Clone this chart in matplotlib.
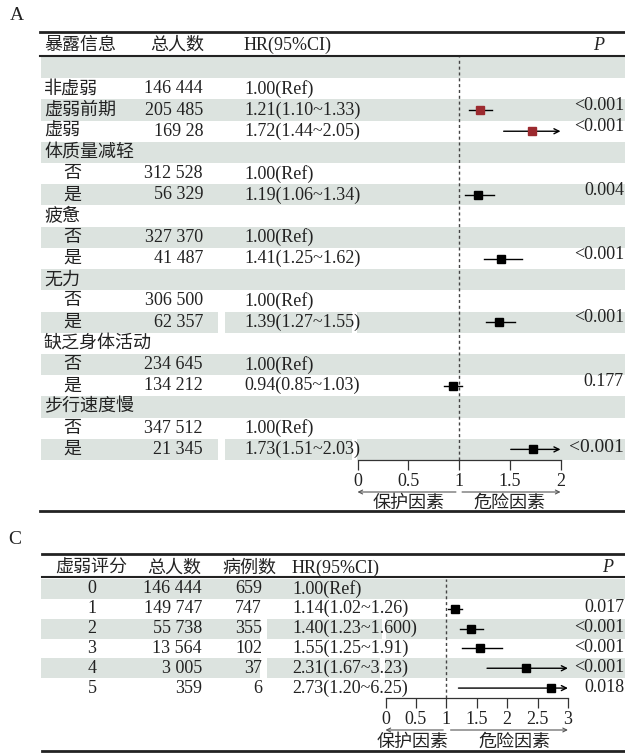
import numpy as np
import matplotlib.pyplot as plt
import matplotlib.transforms as mtransforms
from matplotlib.lines import Line2D

plt.rcParams['font.family'] = ['Liberation Serif', 'Noto Sans CJK SC']
plt.rcParams['font.size'] = 13
plt.rcParams['font.weight'] = 'light'

W, H = 625, 755
nan = np.nan
band = '#dce3df'
ink = '#222222'

# panel A: exposures
a_label = ['', '非虚弱', '虚弱前期', '虚弱', '体质量减轻', '否', '是', '疲惫', '否', '是',
           '无力', '否', '是', '缺乏身体活动', '否', '是', '步行速度慢', '否', '是']
a_sub = [0, 0, 0, 0, 0, 1, 1, 0, 1, 1, 0, 1, 1, 0, 1, 1, 0, 1, 1]
a_total = ['', '146 444', '205 485', '169 28', '', '312 528', '56 329', '', '327 370', '41 487',
           '', '306 500', '62 357', '', '234 645', '134 212', '', '347 512', '21 345']
a_hr_text = ['', '1.00(Ref)', '1.21(1.10~1.33)', '1.72(1.44~2.05)', '', '1.00(Ref)',
             '1.19(1.06~1.34)', '', '1.00(Ref)', '1.41(1.25~1.62)', '', '1.00(Ref)',
             '1.39(1.27~1.55)', '', '1.00(Ref)', '0.94(0.85~1.03)', '', '1.00(Ref)',
             '1.73(1.51~2.03)']
a_hr = [nan, 1.00, 1.21, 1.72, nan, 1.00, 1.19, nan, 1.00, 1.41, nan, 1.00, 1.39, nan, 1.00, 0.94, nan, 1.00, 1.73]
a_lo = [nan, nan, 1.10, 1.44, nan, nan, 1.06, nan, nan, 1.25, nan, nan, 1.27, nan, nan, 0.85, nan, nan, 1.51]
a_hi = [nan, nan, 1.33, 2.05, nan, nan, 1.34, nan, nan, 1.62, nan, nan, 1.55, nan, nan, 1.03, nan, nan, 2.03]
a_p = ['', '', '<0.001', '<0.001', '', '', '0.004', '', '', '<0.001', '', '', '<0.001',
       '', '', '0.177', '', '', '<0.001']
a_red = [2, 3]
a_ticks = [0, 0.5, 1, 1.5, 2]

# panel C: frailty score
c_score = ['0', '1', '2', '3', '4', '5']
c_total = ['146 444', '149 747', '55 738', '13 564', '3 005', '359']
c_cases = ['659', '747', '355', '102', '37', '6']
c_hr_text = ['1.00(Ref)', '1.14(1.02~1.26)', '1.40(1.23~1.600)', '1.55(1.25~1.91)',
             '2.31(1.67~3.23)', '2.73(1.20~6.25)']
c_hr = [1.00, 1.14, 1.40, 1.55, 2.31, 2.73]
c_lo = [nan, 1.02, 1.23, 1.25, 1.67, 1.20]
c_hi = [nan, 1.26, 1.60, 1.91, 3.23, 6.25]
c_p = ['', '0.017', '<0.001', '<0.001', '<0.001', '0.018']
c_ticks = [0, 0.5, 1, 1.5, 2, 2.5, 3]

fig = plt.figure(figsize=(W / 100, H / 100), dpi=100)
# pixel coordinates measured from the top-left corner
px = mtransforms.Affine2D().scale(1 / W, -1 / H).translate(0, 1) + fig.transFigure


def hline(y, x0, lw):
    fig.add_artist(Line2D([x0, W], [y, y], transform=px, color='#222', lw=lw))


def forest_axes(top, bottom, x0, unit, n, ticks, gaps):
    ax = fig.add_axes([0, 1 - bottom / H, 1, (bottom - top) / H])
    ax.set_xlim(-x0 / unit, (W - x0) / unit)
    ax.set_ylim(n, 0)
    for s in ['top', 'left', 'right']:
        ax.spines[s].set_visible(False)
    ax.spines['bottom'].set_bounds(ticks[0], ticks[-1])
    ax.spines['bottom'].set_color('#333')
    ax.spines['bottom'].set_linewidth(0.9)
    ax.set_yticks([])
    ax.set_xticks(ticks)
    ax.set_xticklabels([f'{t:g}' for t in ticks])
    ax.tick_params(axis='x', direction='out', length=7.5, width=0.9, pad=2,
                   color='#333', labelcolor=ink, labelsize=13)
    ax.patch.set_alpha(0)
    for i in range(0, n, 2):
        ax.axhspan(i, i + 1, xmin=41 / W, xmax=1, color=band, lw=0, zorder=0)
    for i, g0, g1 in gaps:
        ax.axhspan(i, i + 1, xmin=g0 / W, xmax=g1 / W, color='white', lw=0, zorder=0.5)
    ax.axvline(1, color='#444', lw=1, ls=(0, (2.2, 2)), zorder=1)
    return ax


def draw_ci(ax, hr, lo, hi, xmax, ms, colors):
    for i in range(len(hr)):
        if np.isnan(lo[i]):
            continue
        y = i + 0.5
        if hi[i] > xmax:
            ax.annotate('', xy=(xmax, y), xytext=(lo[i], y),
                        arrowprops=dict(arrowstyle='->', color='black', lw=1,
                                        shrinkA=0, shrinkB=0, mutation_scale=9))
        else:
            ax.plot([lo[i], hi[i]], [y, y], color='black', lw=1, zorder=2)
        ax.plot(hr[i], y, marker='s', ms=ms, color=colors[i], zorder=3)


def factor_labels(ax, y_arrow, y_text, left_end, right_start, xmax, left_c, right_c):
    kw = dict(arrowstyle='->', color='#555', lw=0.8, shrinkA=0, shrinkB=0, mutation_scale=7)
    ax.annotate('', xy=(0, y_arrow), xycoords=(ax.transData, px),
                xytext=(left_end, y_arrow), textcoords=(ax.transData, px),
                arrowprops=kw, annotation_clip=False)
    ax.annotate('', xy=(xmax, y_arrow), xycoords=(ax.transData, px),
                xytext=(right_start, y_arrow), textcoords=(ax.transData, px),
                arrowprops=kw, annotation_clip=False)
    tr = mtransforms.blended_transform_factory(ax.transData, px)
    ax.text(left_c, y_text, '保护因素', transform=tr, ha='center', va='center', color=ink)
    ax.text(right_c, y_text, '危险因素', transform=tr, ha='center', va='center', color=ink)


# ---- panel A ----
fig.text(10, 15, 'A', transform=px, fontsize=14, va='center', color=ink)
hline(32, 40, 2)
hline(55.5, 40, 1.5)
hline(511, 40, 2)
for x, s in [(44, '暴露信息'), (150, '总人数'), (244, 'HR(95%CI)')]:
    fig.text(x, 45, s, transform=px, va='center', color=ink)
fig.text(599, 45, 'P', transform=px, va='center', ha='center', fontstyle='italic', color=ink)

na = len(a_label)
axa = forest_axes(57, 460, 357.5, 101.5, na, a_ticks,
                  [(12, 218, 225), (12, 352, 357), (18, 218, 225), (18, 352, 357)])
tra = mtransforms.blended_transform_factory(px, axa.transData)
for i in range(na):
    y = i + 0.5
    axa.text(63 if a_sub[i] else 44, y, a_label[i], transform=tra, va='center', color=ink)
    axa.text(203, y, a_total[i], transform=tra, va='center', ha='right', color=ink)
    axa.text(244, y, a_hr_text[i], transform=tra, va='center', color=ink)
    if a_p[i]:
        last = i == na - 1
        axa.text(624, y - (0.08 if last else 0.2), a_p[i], transform=tra, va='center',
                 ha='right', color=ink, fontsize=14 if last else 13)
a_colors = ['#9c2a2f' if i in a_red else 'black' for i in range(na)]
draw_ci(axa, a_hr, a_lo, a_hi, 2, 6, a_colors)
factor_labels(axa, 492, 503, 0.97, 1.03, 2, 0.5, 1.5)

# ---- panel C ----
fig.text(8, 539, 'C', transform=px, fontsize=14, va='center', color=ink)
hline(553.5, 42, 2)
hline(577, 42, 1.5)
hline(751, 42, 2)
for x, s in [(55, '虚弱评分'), (147, '总人数'), (222, '病例数'), (292, 'HR(95%CI)')]:
    fig.text(x, 568, s, transform=px, va='center', color=ink)
fig.text(608, 568, 'P', transform=px, va='center', ha='center', fontstyle='italic', color=ink)

nc = len(c_score)
axc = forest_axes(579, 698, 385.5, 60.8, nc, c_ticks,
                  [(2, 260, 267), (2, 382, 386), (4, 260, 267), (4, 380, 385)])
trc = mtransforms.blended_transform_factory(px, axc.transData)
for i in range(nc):
    y = i + 0.5
    axc.text(92, y, c_score[i], transform=trc, va='center', ha='center', color=ink)
    axc.text(202, y, c_total[i], transform=trc, va='center', ha='right', color=ink)
    axc.text(262, y, c_cases[i], transform=trc, va='center', ha='right', color=ink)
    axc.text(292, y, c_hr_text[i], transform=trc, va='center', color=ink)
    if c_p[i]:
        axc.text(624.5, y - 0.05, c_p[i], transform=trc, va='center', ha='right', color=ink)
draw_ci(axc, c_hr, c_lo, c_hi, 3, 5.5, ['black'] * nc)
factor_labels(axc, 730, 742, 0.95, 1.07, 3, 0.45, 2.12)

fig.savefig('out.png', dpi=100)
